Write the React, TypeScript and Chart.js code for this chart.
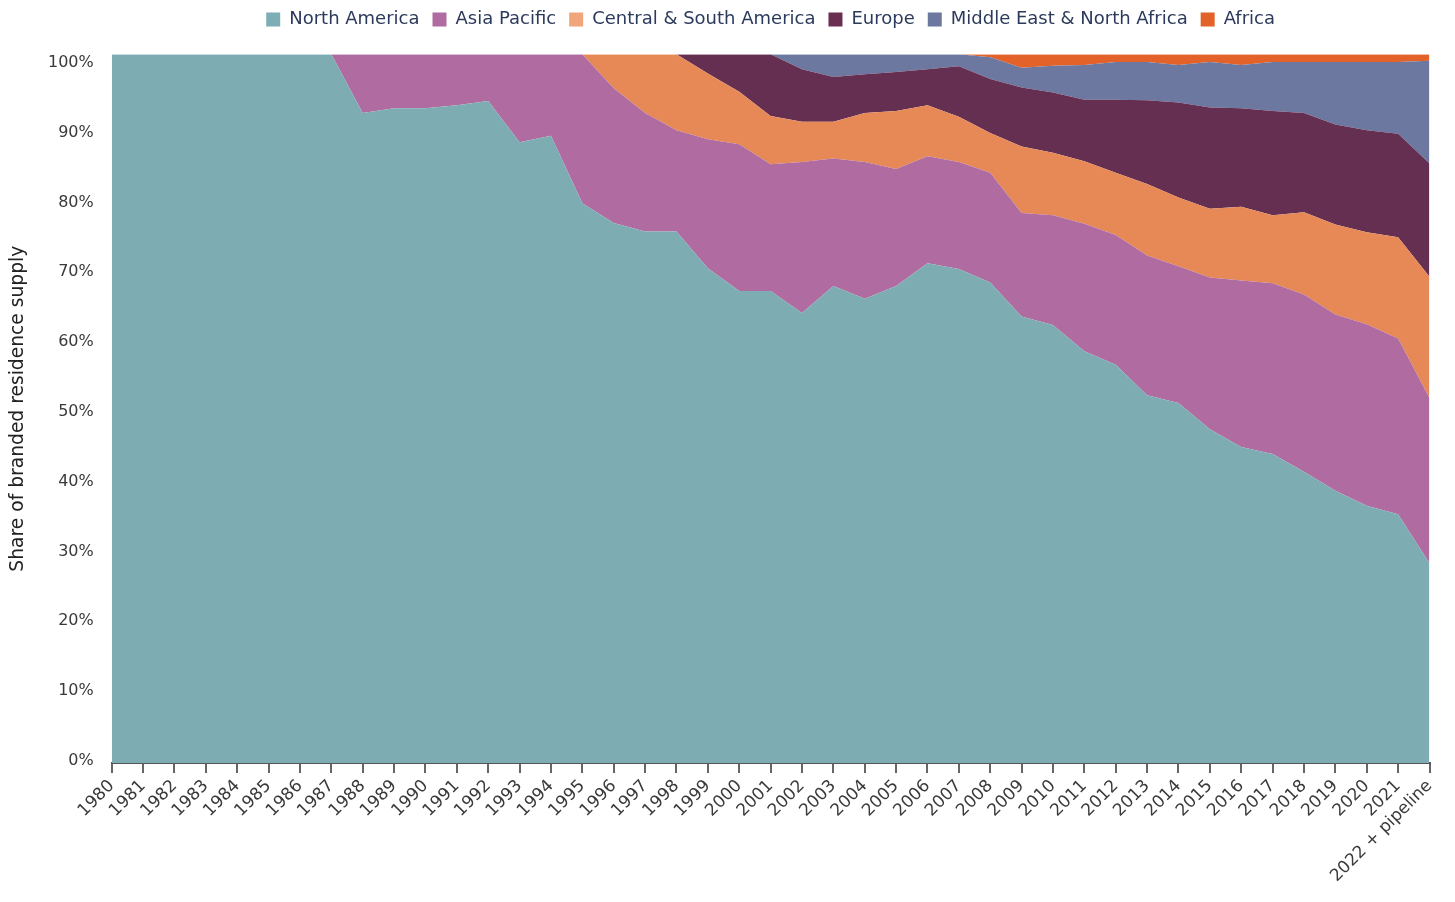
import React, { useEffect, useRef } from 'react';
import { Chart, registerables } from 'chart.js';

Chart.register(...registerables);

const categories = [
  '1980', '1981', '1982', '1983', '1984', '1985', '1986', '1987', '1988', '1989',
  '1990', '1991', '1992', '1993', '1994', '1995', '1996', '1997', '1998', '1999',
  '2000', '2001', '2002', '2003', '2004', '2005', '2006', '2007', '2008', '2009',
  '2010', '2011', '2012', '2013', '2014', '2015', '2016', '2017', '2018', '2019',
  '2020', '2021', '2022 + pipeline',
];

const northAmerica = [
  100, 100, 100, 100, 100, 100, 100, 100, 91.7, 92.4,
  92.4, 92.8, 93.4, 87.6, 88.5, 79.0, 76.2, 75.0, 75.0, 69.8,
  66.6, 66.6, 63.5, 67.3, 65.5, 67.3, 70.5, 69.7, 67.8, 63.0,
  61.8, 58.1, 56.2, 51.9, 50.8, 47.1, 44.6, 43.6, 41.1, 38.4,
  36.3, 35.1, 28.2,
];
const asiaPacific = [
  0, 0, 0, 0, 0, 0, 0, 0, 8.3, 7.6,
  7.6, 7.2, 6.6, 12.4, 11.5, 21.0, 19.0, 16.7, 14.3, 18.2,
  20.7, 17.9, 21.3, 18.0, 19.3, 16.5, 15.1, 15.1, 15.5, 14.6,
  15.5, 18.0, 18.3, 19.7, 19.3, 21.4, 23.5, 24.1, 25.0, 24.9,
  25.6, 24.8, 23.3,
];
const centralSouthAmerica = [
  0, 0, 0, 0, 0, 0, 0, 0, 0, 0,
  0, 0, 0, 0, 0, 0, 4.8, 8.3, 10.7, 9.3,
  7.4, 6.8, 5.7, 5.2, 6.9, 8.2, 7.2, 6.4, 5.6, 9.4,
  8.8, 8.8, 8.8, 10.1, 9.7, 9.7, 10.4, 9.6, 11.6, 12.7,
  13.0, 14.3, 17.1,
];
const europe = [
  0, 0, 0, 0, 0, 0, 0, 0, 0, 0,
  0, 0, 0, 0, 0, 0, 0, 0, 0, 2.7,
  5.3, 8.7, 7.4, 6.3, 5.5, 5.5, 5.1, 7.1, 7.6, 8.3,
  8.5, 8.7, 10.3, 11.8, 13.4, 14.3, 13.9, 14.7, 14.0, 14.1,
  14.4, 14.6, 16.0,
];
const middleEastNorthAfrica = [
  0, 0, 0, 0, 0, 0, 0, 0, 0, 0,
  0, 0, 0, 0, 0, 0, 0, 0, 0, 0,
  0, 0, 2.1, 3.2, 2.8, 2.5, 2.1, 1.7, 3.1, 2.8,
  3.8, 4.9, 5.3, 5.4, 5.3, 6.4, 6.1, 6.9, 7.2, 8.8,
  9.6, 10.1, 14.5,
];
const africa = [
  0, 0, 0, 0, 0, 0, 0, 0, 0, 0,
  0, 0, 0, 0, 0, 0, 0, 0, 0, 0,
  0, 0, 0, 0, 0, 0, 0, 0, 0.4, 1.9,
  1.6, 1.5, 1.1, 1.1, 1.5, 1.1, 1.5, 1.1, 1.1, 1.1,
  1.1, 1.1, 0.9,
];

const seriesNames = [
  'North America',
  'Asia Pacific',
  'Central & South America',
  'Europe',
  'Middle East & North Africa',
  'Africa',
];
const areaColors = ['#7eacb3', '#b06ca1', '#e78957', '#652f52', '#6c78a0', '#e2622a'];
const legendColors = ['#7eaeb5', '#b06ca1', '#f0a57b', '#682f51', '#6c78a0', '#e2622a'];

const yAxisTitle = 'Share of branded residence supply';

const legendTweak = {
  id: 'legendTweak',
  beforeLayout(chart: any) {
    const lg = chart.legend;
    if (lg && !lg._patchedFit) {
      const orig = lg.fit;
      lg.fit = function () {
        orig.call(this);
        this.height = 54.3;
      };
      lg._patchedFit = true;
    }
  },
  afterLayout(chart: any) {
    const lg = chart.legend;
    if (lg) {
      lg.top -= 2.5;
      lg.bottom -= 2.5;
    }
  },
};

export default function App() {
  const canvasRef = useRef<HTMLCanvasElement>(null);

  useEffect(() => {
    const series = [northAmerica, asiaPacific, centralSouthAmerica, europe, middleEastNorthAfrica, africa];
    const chart = new Chart(canvasRef.current as HTMLCanvasElement, {
      type: 'line',
      data: {
        labels: categories,
        datasets: series.map((d, i) => ({
          label: seriesNames[i],
          data: d,
          backgroundColor: areaColors[i],
          borderColor: areaColors[i],
          borderWidth: 0,
          pointRadius: 0,
          pointHoverRadius: 0,
          tension: 0,
          fill: i === 0 ? 'origin' : '-1',
          yAxisID: 'y',
        })),
      },
      options: {
        responsive: false,
        animation: false,
        layout: { padding: { left: 0, right: 25.5, top: 0, bottom: 0 } },
        plugins: {
          legend: {
            position: 'top',
            align: 'center',
            fullSize: false,
            labels: {
              boxWidth: 14,
              boxHeight: 14,
              padding: 13,
              color: '#2c3a5c',
              font: { family: 'DejaVu Sans', size: 18 },
              generateLabels: (c: any) =>
                c.data.datasets.map((ds: any, i: number) => ({
                  text: ds.label,
                  fillStyle: legendColors[i],
                  strokeStyle: legendColors[i],
                  lineWidth: 0,
                  hidden: false,
                  datasetIndex: i,
                  fontColor: '#2c3a5c',
                })),
            },
          },
          tooltip: { enabled: false },
        },
        scales: {
          x: {
            type: 'category',
            offset: false,
            grid: {
              display: true,
              drawOnChartArea: false,
              drawTicks: true,
              tickLength: 10,
              color: '#666666',
              lineWidth: 2,
            },
            border: { display: true, color: '#555555', width: 2 },
            ticks: {
              autoSkip: false,
              maxRotation: 45,
              minRotation: 45,
              padding: 3,
              color: '#3a3a3a',
              font: { family: 'DejaVu Sans', size: 17 },
            },
            afterFit: (s: any) => {
              s.height = 139;
            },
          },
          y: {
            type: 'linear',
            stacked: true,
            min: 0,
            max: 100,
            display: false,
          },
          yl: {
            type: 'linear',
            position: 'left',
            min: -0.33,
            max: 101.25,
            grid: { display: false, drawTicks: false },
            border: { display: false },
            ticks: {
              stepSize: 10,
              includeBounds: false,
              padding: 18,
              color: '#3a3a3a',
              font: { family: 'DejaVu Sans', size: 16 },
              callback: (v: any) => v + '%',
            },
            title: {
              display: true,
              text: yAxisTitle,
              color: '#222222',
              font: { family: 'DejaVu Sans', size: 18.7 },
              padding: { top: 7, bottom: 0 },
            },
            afterFit: (s: any) => {
              s.width = 111.7;
            },
          },
        },
      } as any,
      plugins: [legendTweak],
    });
    return () => chart.destroy();
  }, []);

  return (
    <div style={{ position: 'absolute', left: 0, top: 0, width: 1455, height: 902 }}>
      <canvas ref={canvasRef} width={1455} height={902} style={{ display: 'block', width: 1455, height: 902 }} />
    </div>
  );
}
